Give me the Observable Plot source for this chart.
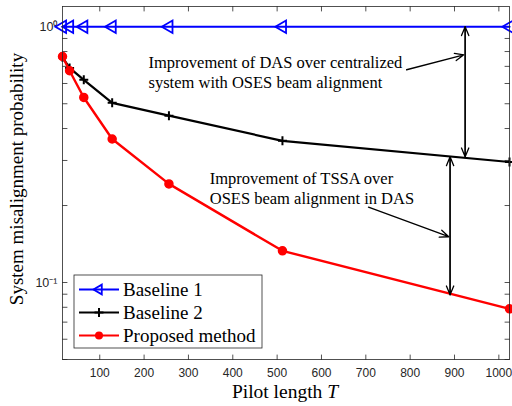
<!DOCTYPE html>
<html><head><meta charset="utf-8">
<script src="https://cdn.jsdelivr.net/npm/d3@7"></script>
<script src="https://cdn.jsdelivr.net/npm/@observablehq/plot@0.6"></script>
<style>
body{margin:0;background:#fff}
#wrap{position:relative;width:512px;height:406px;background:#fff}
</style></head><body><div id="wrap"></div>
<script>
// ---- data ----
const pilotLengths = [16, 32, 64, 128, 256, 512, 1024];
const baseline1 = [1, 1, 1, 1, 1, 1, 1];
const baseline2 = [0.76, 0.69, 0.62, 0.504, 0.449, 0.358, 0.296];
const proposed  = [0.765, 0.673, 0.529, 0.364, 0.243, 0.133, 0.0789];
const seriesNames = ["Baseline 1", "Baseline 2", "Proposed method"];
const seriesColors = ["#0000ff", "#000000", "#ff0000"];
const xTicks = [100, 200, 300, 400, 500, 600, 700, 800, 900, 1000];
const yMajor = [0.1, 1];
const yMinor = [0.05, 0.06, 0.07, 0.08, 0.09, 0.2, 0.3, 0.4, 0.5, 0.6, 0.7, 0.8, 0.9];
const yTickText = ["10\u207B\u00B9", "10\u2070"];
const xLabel = "Pilot length ";
const xLabelVar = "T";
const yLabel = "System misalignment probability";
// annotations (data coordinates)
const gapArrowX   = [924, 890];
const gapArrowTop = [1, 0.31];
const gapArrowBot = [0.31, 0.0895];
const noteX = [210, 348];
const noteY = [0.667, 0.235];
const noteText = ["Improvement of DAS over centralized\nsystem with OSES beam alignment",
                  "Improvement of TSSA over\nOSES beam alignment in DAS"];
const ptrX1 = [792, 706], ptrY1 = [0.679, 0.197], ptrX2 = [921, 887], ptrY2 = [0.777, 0.151];

const seriesValues = [baseline1, baseline2, proposed];
const rows = seriesValues.flatMap((vals, s) => vals.map((v, i) => ({T: pilotLengths[i], p: v, s: seriesNames[s]})));
const byName = n => rows.filter(r => r.s === n);
const gaps = gapArrowX.map((x, i) => ({x, top: gapArrowTop[i], bot: gapArrowBot[i]}));
const notes = noteX.map((x, i) => ({x, y: noteY[i], text: noteText[i]}));
const ptrs = ptrX1.map((x1, i) => ({x1, y1: ptrY1[i], x2: ptrX2[i], y2: ptrY2[i]}));

const tickShape = {draw(ctx, l) { ctx.moveTo(0, 0); ctx.lineTo(0, -l); }};
const axisCol = "#262626";
const tickLen = 4.5;
const yAll = yMajor.concat(yMinor);
const serif = "'Liberation Serif', 'Times New Roman', serif";
const sans = "'Liberation Sans', Arial, Helvetica, sans-serif";
const triR = 4.6, plusR = 3, dotR = 4;

const chart = Plot.plot({
  width: 512, height: 406,
  marginLeft: 62, marginRight: 3, marginTop: 6, marginBottom: 47,
  x: {domain: [16, 1024]},
  y: {type: "log", domain: [0.05, 1.2]},
  style: {background: "white"},
  marks: [
    // tick labels
    Plot.axisX(xTicks, {anchor: "bottom", tickSize: 0, tickPadding: 9, label: null, fontSize: 12, fontFamily: sans, fill: axisCol,
      tickFormat: d => String(d)}),
    Plot.axisY(yMajor, {anchor: "left", tickSize: 0, tickPadding: 5, label: null, fontSize: 12.5, fontFamily: sans, fill: axisCol,
      tickFormat: d => yTickText[yMajor.indexOf(d)]}),
    // inward ticks on all four sides
    Plot.vector(xTicks, {x: d => d, frameAnchor: "bottom", rotate: 0, length: tickLen, anchor: "start", shape: tickShape, stroke: axisCol, strokeWidth: 0.8}),
    Plot.vector(xTicks, {x: d => d, frameAnchor: "top", rotate: 180, length: tickLen, anchor: "start", shape: tickShape, stroke: axisCol, strokeWidth: 0.8}),
    Plot.vector(yAll, {y: d => d, frameAnchor: "left", rotate: 90, length: tickLen, anchor: "start", shape: tickShape, stroke: axisCol, strokeWidth: 0.8}),
    Plot.vector(yAll, {y: d => d, frameAnchor: "right", rotate: -90, length: tickLen, anchor: "start", shape: tickShape, stroke: axisCol, strokeWidth: 0.8}),
    // series
    Plot.line(byName(seriesNames[0]), {x: "T", y: "p", stroke: seriesColors[0], strokeWidth: 2.2}),
    Plot.dot(byName(seriesNames[0]), {x: "T", y: "p", symbol: "triangle", r: triR, rotate: -90, stroke: seriesColors[0], strokeWidth: 1.8, fill: "none"}),
    Plot.line(byName(seriesNames[1]), {x: "T", y: "p", stroke: seriesColors[1], strokeWidth: 2.2}),
    Plot.dot(byName(seriesNames[1]), {x: "T", y: "p", symbol: "plus", r: plusR, stroke: seriesColors[1], strokeWidth: 2}),
    Plot.line(byName(seriesNames[2]), {x: "T", y: "p", stroke: seriesColors[2], strokeWidth: 2.4}),
    Plot.dot(byName(seriesNames[2]), {x: "T", y: "p", r: dotR, fill: seriesColors[2], stroke: seriesColors[2]}),
    // annotations
    Plot.arrow(gaps, {x1: "x", y1: "top", x2: "x", y2: "bot", stroke: "black", strokeWidth: 1.3, headLength: 11, headAngle: 45}),
    Plot.arrow(gaps, {x1: "x", y1: "bot", x2: "x", y2: "top", stroke: "black", strokeWidth: 1.3, headLength: 11, headAngle: 45}),
    Plot.arrow(ptrs, {x1: "x1", y1: "y1", x2: "x2", y2: "y2", stroke: "black", strokeWidth: 1.3, headLength: 11, headAngle: 45}),
    Plot.text(notes, {x: "x", y: "y", text: "text", textAnchor: "start", lineAnchor: "middle", lineHeight: 1.21, fontSize: 16.5, fontFamily: serif, fill: "black"}),
    Plot.frame({stroke: axisCol, strokeWidth: 0.8})
  ]
});
document.getElementById("wrap").appendChild(chart);

// axis titles and legend
const svg = d3.select(chart);
svg.append("text")
  .attr("transform", "translate(23,179) rotate(-90)")
  .attr("text-anchor", "middle")
  .attr("font-family", serif).attr("font-size", 19).attr("fill", "black")
  .text(yLabel);
const xl = svg.append("text")
  .attr("x", 285).attr("y", 398).attr("text-anchor", "middle")
  .attr("font-family", serif).attr("font-size", 19.5).attr("fill", "black");
xl.append("tspan").text(xLabel);
xl.append("tspan").attr("font-style", "italic").text(xLabelVar);

const lg = svg.append("g").attr("text-anchor", "start");
lg.append("rect").attr("x", 74).attr("y", 275).attr("width", 188).attr("height", 73)
  .attr("fill", "white").attr("stroke", axisCol).attr("stroke-width", 0.8);
const symTri = d3.symbol(d3.symbolTriangle2, triR * triR * Math.PI)();
const symPlus = d3.symbol(d3.symbolPlus, plusR * plusR * Math.PI)();
seriesNames.forEach((name, i) => {
  const cy = 289.5 + i * 23;
  lg.append("line").attr("x1", 79).attr("x2", 119).attr("y1", cy).attr("y2", cy)
    .attr("stroke", seriesColors[i]).attr("stroke-width", 2.2);
  if (i === 0) lg.append("path").attr("d", symTri).attr("transform", `translate(99,${cy}) rotate(-90)`)
    .attr("fill", "none").attr("stroke", seriesColors[i]).attr("stroke-width", 1.8);
  if (i === 1) lg.append("path").attr("d", symPlus).attr("transform", `translate(99,${cy})`)
    .attr("fill", "none").attr("stroke", seriesColors[i]).attr("stroke-width", 2);
  if (i === 2) lg.append("circle").attr("cx", 99).attr("cy", cy).attr("r", dotR).attr("fill", seriesColors[i]);
  lg.append("text").attr("x", 123).attr("y", cy + 6.4).attr("text-anchor", "start")
    .attr("font-family", serif).attr("font-size", 19).attr("fill", "black").text(name);
});
</script>
</body></html>
